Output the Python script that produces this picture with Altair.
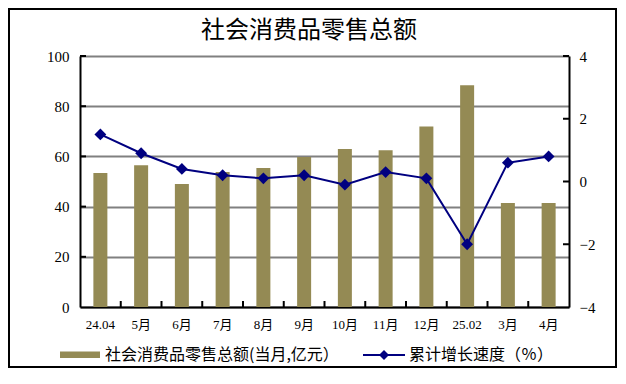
import altair as alt
import pandas as pd

categories = ["24.04", "5月", "6月", "7月", "8月", "9月", "10月", "11月", "12月", "25.02", "3月", "4月"]
retail_sales = [53.4, 56.5, 49.0, 53.8, 55.4, 59.8, 62.9, 62.5, 71.9, 88.3, 41.4, 41.4]
growth_rate = [1.5, 0.9, 0.4, 0.2, 0.1, 0.2, -0.1, 0.3, 0.1, -2.0, 0.6, 0.8]
left_ticks = [0, 20, 40, 60, 80, 100]
right_ticks = [-4, -2, 0, 2, 4]

title_text = "社会消费品零售总额"
legend_bar = "社会消费品零售总额(当月,亿元）"
legend_line = "累计增长速度（％）"

W, H = 489, 251
SERIF = "Liberation Serif, Noto Sans CJK SC"
CJK = "Noto Sans CJK SC"
BAR = "#948A54"
NAVY = "#000080"

df = pd.DataFrame({"cat": categories, "sales": retail_sales, "growth": growth_rate})
one = pd.DataFrame({"a": [0]})

xscale = alt.Scale(domain=categories, paddingInner=0, paddingOuter=0)
xaxis = alt.Axis(title=None, ticks=False, labelFont=SERIF, labelFontSize=13, labelColor="black",
                 labelPadding=11, domainColor="black", domainWidth=2, labelAngle=0, grid=False)
lscale = alt.Scale(domain=[0, 100], nice=False)
laxis = alt.Axis(title=None, values=left_ticks, ticks=False, labelFont=SERIF, labelFontSize=15,
                 labelColor="black", labelPadding=11, domainColor="black", domainWidth=2,
                 grid=True, gridColor="#808080", gridWidth=2)
rscale = alt.Scale(domain=[-4, 4], nice=False)
raxis = alt.Axis(title=None, values=right_ticks, orient="right", ticks=False, labelFont=SERIF,
                 labelFontSize=15, labelColor="black", labelPadding=10, domainColor="black",
                 domainWidth=2, grid=False)

X = alt.X("cat:N", scale=xscale, axis=xaxis)

frame = alt.Chart(one).mark_rect(fillOpacity=0, stroke="black", strokeWidth=2).encode(
    x=alt.value(-71), x2=alt.value(536), y=alt.value(-47), y2=alt.value(311))

bars = alt.Chart(df).mark_bar(size=14, color=BAR).encode(
    x=X, y=alt.Y("sales:Q", scale=lscale, axis=laxis))

xticks = alt.Chart(pd.DataFrame({"cat": categories[1:]})).mark_rule(color="black", strokeWidth=2).encode(
    x=alt.X("cat:N", scale=xscale, axis=xaxis, bandPosition=0),
    y=alt.value(H), y2=alt.value(H - 6))

lticks = alt.Chart(pd.DataFrame({"v": left_ticks[1:]})).mark_rule(color="black", strokeWidth=2).encode(
    x=alt.value(0), x2=alt.value(6), y=alt.Y("v:Q", scale=lscale, axis=laxis))

title = alt.Chart(one).mark_text(text=title_text, font=CJK, fontSize=24, color="black",
                                 align="center", baseline="middle").encode(
    x=alt.value(229), y=alt.value(-25))

leg_swatch = alt.Chart(one).mark_rect(color=BAR).encode(
    x=alt.value(-20), x2=alt.value(20), y=alt.value(295.5), y2=alt.value(302))
leg_text1 = alt.Chart(one).mark_text(text=legend_bar, font=CJK, fontSize=16, color="black",
                                     align="left", baseline="middle").encode(
    x=alt.value(25), y=alt.value(299))
leg_line = alt.Chart(one).mark_rule(color=NAVY, strokeWidth=2).encode(
    x=alt.value(283), x2=alt.value(325), y=alt.value(299))
leg_pt = alt.Chart(one).mark_point(shape="diamond", filled=True, size=100, color=NAVY, opacity=1).encode(
    x=alt.value(304), y=alt.value(299))
leg_text2 = alt.Chart(one).mark_text(text=legend_line, font=CJK, fontSize=16, color="black",
                                     align="left", baseline="middle").encode(
    x=alt.value(329), y=alt.value(299))

left_group = alt.layer(frame, bars, xticks, lticks, title, leg_swatch, leg_text1, leg_line, leg_pt, leg_text2)

line = alt.Chart(df).mark_line(color=NAVY, strokeWidth=2).encode(
    x=X, y=alt.Y("growth:Q", scale=rscale, axis=raxis))
points = alt.Chart(df).mark_point(shape="diamond", filled=True, size=140, color=NAVY, opacity=1).encode(
    x=X, y=alt.Y("growth:Q", scale=rscale, axis=raxis))
rticks = alt.Chart(pd.DataFrame({"t": right_ticks[1:]})).mark_rule(color="black", strokeWidth=2).encode(
    x=alt.value(W - 6), x2=alt.value(W), y=alt.Y("t:Q", scale=rscale, axis=raxis))

right_group = alt.layer(line, points, rticks)

chart = alt.layer(left_group, right_group).resolve_scale(y="independent").properties(
    width=W, height=H, padding=0, background="white"
).configure_view(stroke=None)

chart.save("out.html", embed_options={"renderer": "svg", "actions": False})
